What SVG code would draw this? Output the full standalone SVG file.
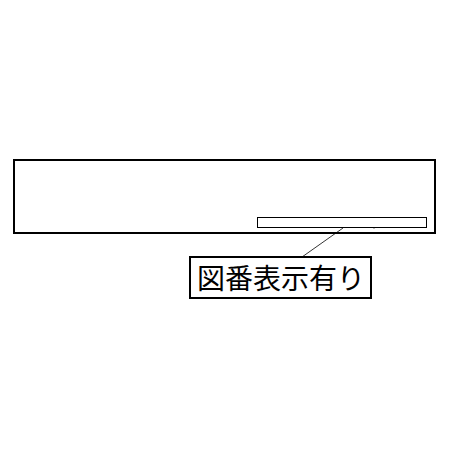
<svg xmlns="http://www.w3.org/2000/svg" width="450" height="450" viewBox="0 0 450 450">
<style>
.box{fill:#fff;stroke:#000;stroke-width:2}
.thin{fill:#fff;stroke:#000;stroke-width:1}
.lbl{font-family:"Noto Sans CJK JP","Noto Sans CJK SC",sans-serif;font-size:28px;fill:#000}
</style>
<rect width="450" height="450" fill="#fff"/>
<g id="panel">
<rect class="box" x="14" y="160" width="421" height="73"/>
</g>
<g id="title-area">
<rect class="thin" x="257.5" y="217.5" width="169" height="10"/>
</g>
<g id="connectors">
<line x1="343" y1="228" x2="302" y2="257" stroke="#000" stroke-width="0.8"/>
<line x1="373" y1="227.5" x2="374" y2="228.5" stroke="#000" stroke-width="1"/>
</g>
<g id="label">
<rect class="box" x="190" y="257" width="181" height="41"/>
<text class="lbl" x="281" y="289" text-anchor="middle">図番表示有り</text>
</g>
</svg>
